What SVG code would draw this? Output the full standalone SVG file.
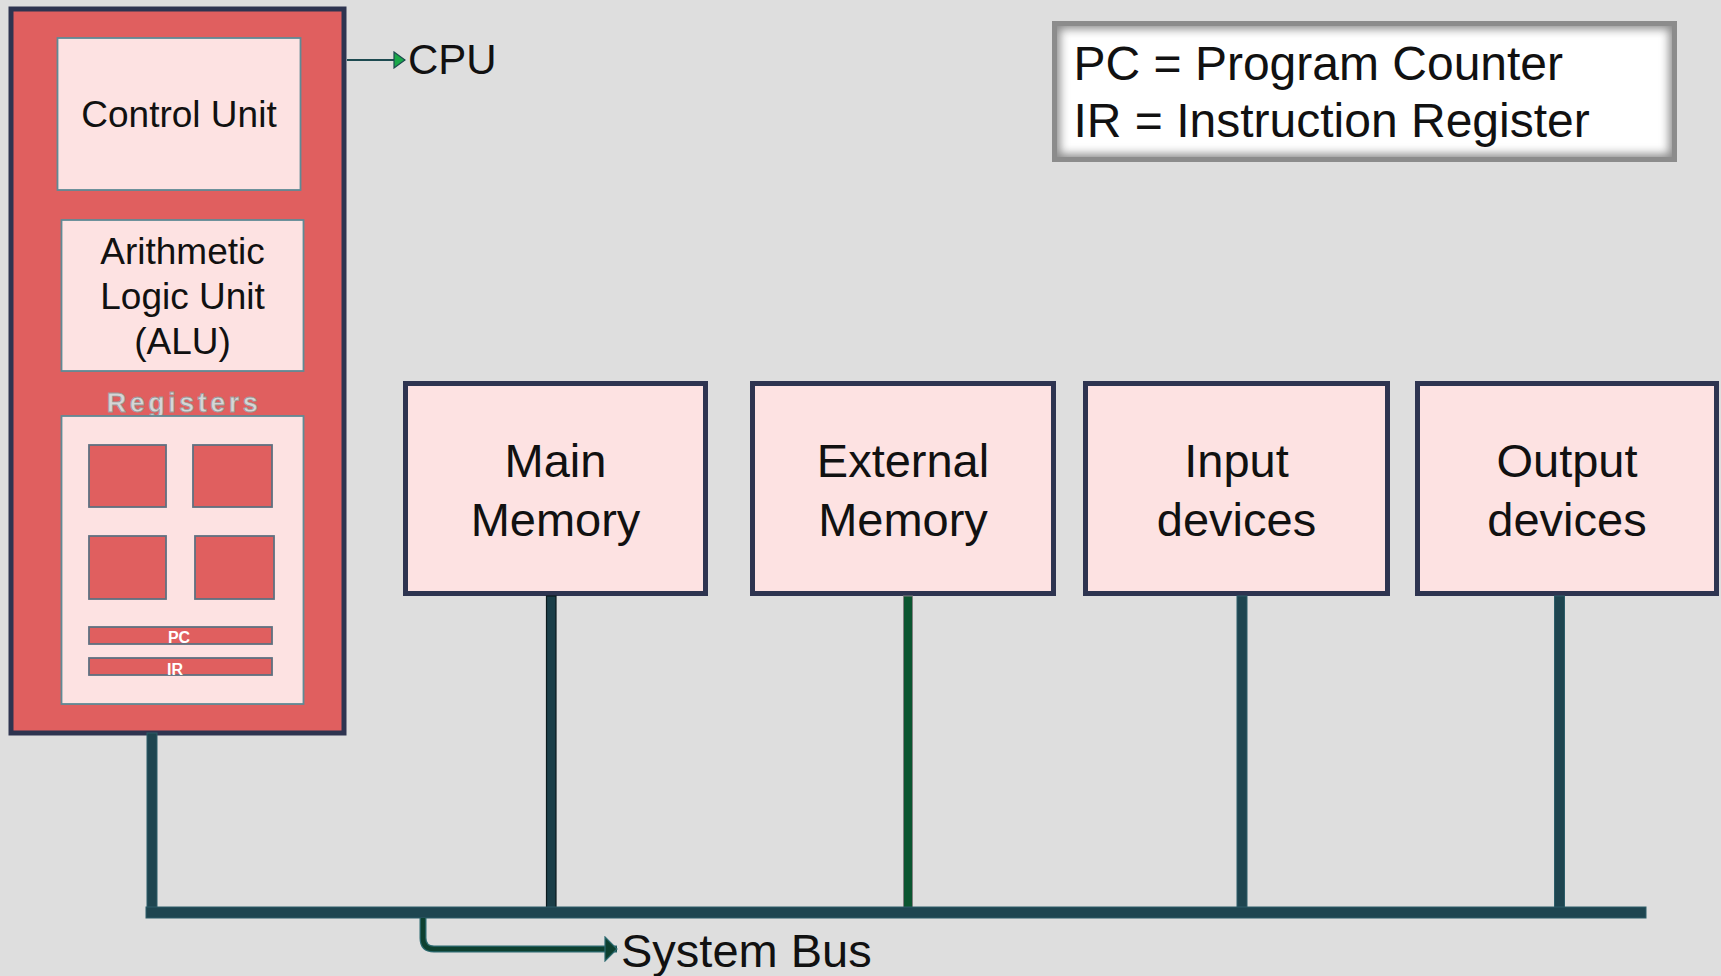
<svg xmlns="http://www.w3.org/2000/svg" width="1721" height="976" viewBox="0 0 1721 976">
<defs>
<style>
.t{font-family:"Liberation Sans",Arial,sans-serif;fill:#111;}
.node{fill:#fde2e2;stroke:#2e3450;stroke-width:5;}
.inner{fill:#fde2e2;stroke:#5f8a95;stroke-width:1.8;}
.reg{fill:#e05f5f;stroke:#5f7080;stroke-width:1.8;}
.bar{fill:#1e4550;stroke:#2c5c68;stroke-width:1;}
</style>
<marker id="tri" markerWidth="13" markerHeight="18" refX="12" refY="9" orient="auto" markerUnits="userSpaceOnUse">
<path d="M1,1 L12,9 L1,17 Z" fill="#1aa84a" stroke="#1d4a50" stroke-width="1.2"/>
</marker>
<marker id="tri2" markerWidth="14" markerHeight="26" refX="13" refY="13" orient="auto" markerUnits="userSpaceOnUse">
<path d="M1,1 L13,13 L1,25 Z" fill="#0d4030" stroke="#2c6a70" stroke-width="1.2"/>
</marker>
<filter id="glow" x="-5%" y="-10%" width="110%" height="120%">
<feGaussianBlur stdDeviation="5"/>
</filter>
<clipPath id="legclip"><rect x="1052" y="21" width="625" height="141"/></clipPath>
</defs>
<rect width="1721" height="976" fill="#dedede"/>

<g id="cpu">
<rect x="11" y="9" width="333" height="724" fill="#e05f5f" stroke="#2e3450" stroke-width="5"/>
</g>
<g id="control-unit">
<rect class="inner" x="57.5" y="38" width="243" height="152"/>
<text class="t" x="179" y="127" font-size="37" text-anchor="middle">Control Unit</text>
</g>
<g id="alu">
<rect class="inner" x="61.5" y="220" width="242" height="151"/>
<text class="t" x="182.5" y="263.5" font-size="37" text-anchor="middle">Arithmetic</text>
<text class="t" x="182.5" y="308.5" font-size="37" text-anchor="middle">Logic Unit</text>
<text class="t" x="182.5" y="353.5" font-size="37" text-anchor="middle">(ALU)</text>
</g>
<g id="registers">
<text x="184" y="412" font-family="'Liberation Sans',Arial,sans-serif" font-size="27" font-weight="bold" letter-spacing="3.5" text-anchor="middle" fill="#d6d6d6" stroke="#9a9a9a" stroke-width="0.8">Registers</text>
<rect class="inner" x="61.5" y="416" width="242" height="288"/>
<rect class="reg" x="89" y="445" width="77" height="62"/>
<rect class="reg" x="193" y="445" width="79" height="62"/>
<rect class="reg" x="89" y="536" width="77" height="63"/>
<rect class="reg" x="195" y="536" width="79" height="63"/>
<rect class="reg" x="89" y="627" width="183" height="17"/>
<rect class="reg" x="89" y="658" width="183" height="17"/>
<text x="179" y="643" font-family="'Liberation Sans',Arial,sans-serif" font-size="16" font-weight="bold" fill="#ffffff" text-anchor="middle">PC</text>
<text x="175" y="675" font-family="'Liberation Sans',Arial,sans-serif" font-size="16" font-weight="bold" fill="#ffffff" text-anchor="middle">IR</text>
</g>

<g id="cpu-label">
<text class="t" x="408" y="74" font-size="42">CPU</text>
</g>

<g id="legend">
<rect x="1052" y="21" width="625" height="141" fill="#ffffff"/>
<g clip-path="url(#legclip)">
<rect x="1052" y="21" width="625" height="141" fill="none" stroke="#8a8a8a" stroke-width="16" filter="url(#glow)"/>
</g>
<rect x="1054.5" y="23.5" width="620" height="136" fill="none" stroke="#8c8c8c" stroke-width="5"/>
<text class="t" x="1073.5" y="80" font-size="48">PC = Program Counter</text>
<text class="t" x="1073.5" y="137" font-size="48">IR = Instruction Register</text>
</g>

<g id="main-memory">
<rect class="node" x="405.5" y="383.5" width="300" height="210"/>
<text class="t" x="555.5" y="477" font-size="47" text-anchor="middle">Main</text>
<text class="t" x="555.5" y="536" font-size="47" text-anchor="middle">Memory</text>
</g>
<g id="external-memory">
<rect class="node" x="752.5" y="383.5" width="301" height="210"/>
<text class="t" x="903" y="477" font-size="47" text-anchor="middle">External</text>
<text class="t" x="903" y="536" font-size="47" text-anchor="middle">Memory</text>
</g>
<g id="input-devices">
<rect class="node" x="1085.5" y="383.5" width="302" height="210"/>
<text class="t" x="1236.5" y="477" font-size="47" text-anchor="middle">Input</text>
<text class="t" x="1236.5" y="536" font-size="47" text-anchor="middle">devices</text>
</g>
<g id="output-devices">
<rect class="node" x="1417.5" y="383.5" width="299" height="210"/>
<text class="t" x="1567" y="477" font-size="47" text-anchor="middle">Output</text>
<text class="t" x="1567" y="536" font-size="47" text-anchor="middle">devices</text>
</g>

<g id="connectors">
<line x1="347" y1="60" x2="405" y2="60" stroke="#1d4a50" stroke-width="2" marker-end="url(#tri)"/>
<rect class="bar" x="147" y="733" width="10" height="176"/>
<rect x="546.5" y="596" width="9.5" height="313" fill="#1a3e48" stroke="#0a1a1e" stroke-width="1.2"/>
<rect x="903.5" y="596" width="9" height="312" fill="#0b5530" stroke="#808080" stroke-width="1"/>
<rect class="bar" x="1237" y="596" width="10" height="313"/>
<rect class="bar" x="1554.5" y="596" width="10" height="312"/>
<rect class="bar" x="146" y="907" width="1500" height="11"/>
<path d="M423,918 V938 Q423,949 434,949 H617" fill="none" stroke="#2c6a70" stroke-width="7" />
<path d="M423,918 V938 Q423,949 434,949 H617" fill="none" stroke="#0d4030" stroke-width="4.5" marker-end="url(#tri2)"/>
</g>

<g id="bus-label">
<text class="t" x="621" y="967" font-size="47">System Bus</text>
</g>
</svg>
